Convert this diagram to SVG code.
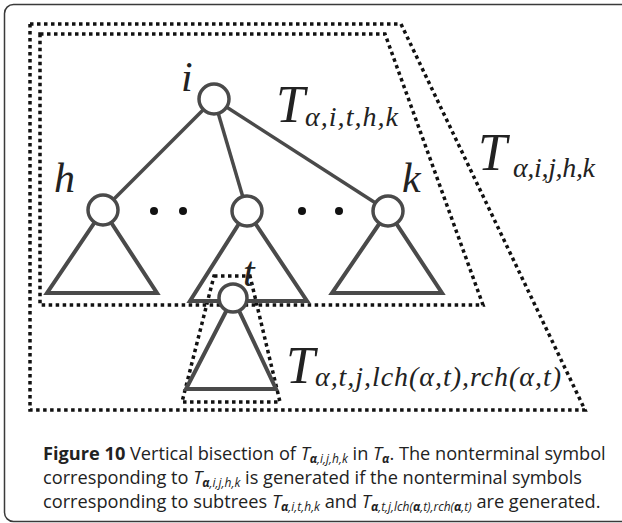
<svg xmlns="http://www.w3.org/2000/svg" width="622" height="523" viewBox="0 0 622 523">
<style>
.frame{fill:none;stroke:#3a3a3a;stroke-width:1.5}
.dot{fill:none;stroke:#111;stroke-width:3.5;stroke-dasharray:3.5 3.5;stroke-linejoin:miter}
.edge{stroke:#4a4a4a;stroke-width:3.5;fill:none}
.tri{fill:none;stroke:#4a4a4a;stroke-width:4;stroke-linejoin:miter}
.node{fill:#fff;stroke:#4a4a4a;stroke-width:3.5}
.lab{font-family:"Liberation Serif","Times New Roman",serif;font-style:italic;fill:#222}
.big{font-size:52px}
.sub{font-size:28px}
.var{font-size:42px}
.cap{font-family:"Open Sans","Noto Sans",sans-serif;font-size:18.2px;fill:#222}
.ci{font-style:italic}
.cs{font-size:12px;font-style:italic}
.cb{font-weight:bold}
</style>
<rect class="frame" x="4.5" y="4.5" width="700" height="517" rx="9"/>
<g id="regions">
<polygon class="dot" points="30,24 401,24 585,410 30,410"/>
<polygon class="dot" points="40,34 385,34 483,305 40,305"/>
<polygon class="dot" points="214,276 250,276 280,402 182,402"/>
</g>
<g id="connectors">
<line class="edge" x1="214" y1="99" x2="103" y2="210"/>
<line class="edge" x1="214" y1="99" x2="247" y2="211"/>
<line class="edge" x1="214" y1="99" x2="388" y2="211"/>
</g>
<g id="subtrees">
<polygon class="tri" points="103,210 47,293 157,293"/>
<polygon class="tri" points="247,211 190,301 307,301"/>
<polygon class="tri" points="388,211 332,293 442,293"/>
<polygon class="tri" points="233,298 186,389 276,389"/>
</g>
<g id="ellipsis" fill="#111">
<circle cx="154" cy="211" r="4"/>
<circle cx="183" cy="211" r="4"/>
<circle cx="302" cy="211" r="4"/>
<circle cx="339" cy="211" r="4"/>
</g>
<g id="node-i"><circle class="node" cx="214" cy="99" r="15"/><text class="lab var" x="181" y="91">i</text></g>
<g id="node-h"><circle class="node" cx="103" cy="210" r="15"/><text class="lab var" x="54" y="192">h</text></g>
<g id="node-mid"><circle class="node" cx="247" cy="211" r="15"/></g>
<g id="node-k"><circle class="node" cx="388" cy="211" r="15"/><text class="lab var" x="402" y="192">k</text></g>
<g id="node-t"><circle class="node" cx="233" cy="298" r="14"/><text class="lab var" x="243" y="286">t</text></g>
<g id="labels">
<text class="lab big" x="276" y="122">T</text>
<text class="lab sub" x="305" y="126" textLength="93" lengthAdjust="spacing">α,i,t,h,k</text>
<text class="lab big" x="478" y="170">T</text>
<text class="lab sub" x="513" y="177" textLength="82" lengthAdjust="spacing">α,i,j,h,k</text>
<text class="lab big" x="286" y="383">T</text>
<text class="lab sub" x="315" y="386" textLength="246" lengthAdjust="spacing">α,t,j,lch(α,t),rch(α,t)</text>
</g>
<g id="caption">
<text class="cap" x="43" y="460"><tspan class="cb">Figure 10</tspan>  Vertical bisection of <tspan class="ci">T</tspan><tspan class="cs" dy="3"><tspan class="cb">α</tspan>,i,j,h,k</tspan><tspan dy="-3"> in </tspan><tspan class="ci">T</tspan><tspan class="cs cb" dy="3">α</tspan><tspan dy="-3">. The nonterminal symbol</tspan></text>
<text class="cap" x="43" y="484">corresponding to <tspan class="ci">T</tspan><tspan class="cs" dy="3"><tspan class="cb">α</tspan>,i,j,h,k</tspan><tspan dy="-3"> is generated if the nonterminal symbols</tspan></text>
<text class="cap" x="43" y="508">corresponding to subtrees <tspan class="ci">T</tspan><tspan class="cs" dy="3"><tspan class="cb">α</tspan>,i,t,h,k</tspan><tspan dy="-3"> and </tspan><tspan class="ci">T</tspan><tspan class="cs" dy="3"><tspan class="cb">α</tspan>,t,j,lch(<tspan class="cb">α</tspan>,t),rch(<tspan class="cb">α</tspan>,t)</tspan><tspan dy="-3"> are generated.</tspan></text>
</g>
</svg>
